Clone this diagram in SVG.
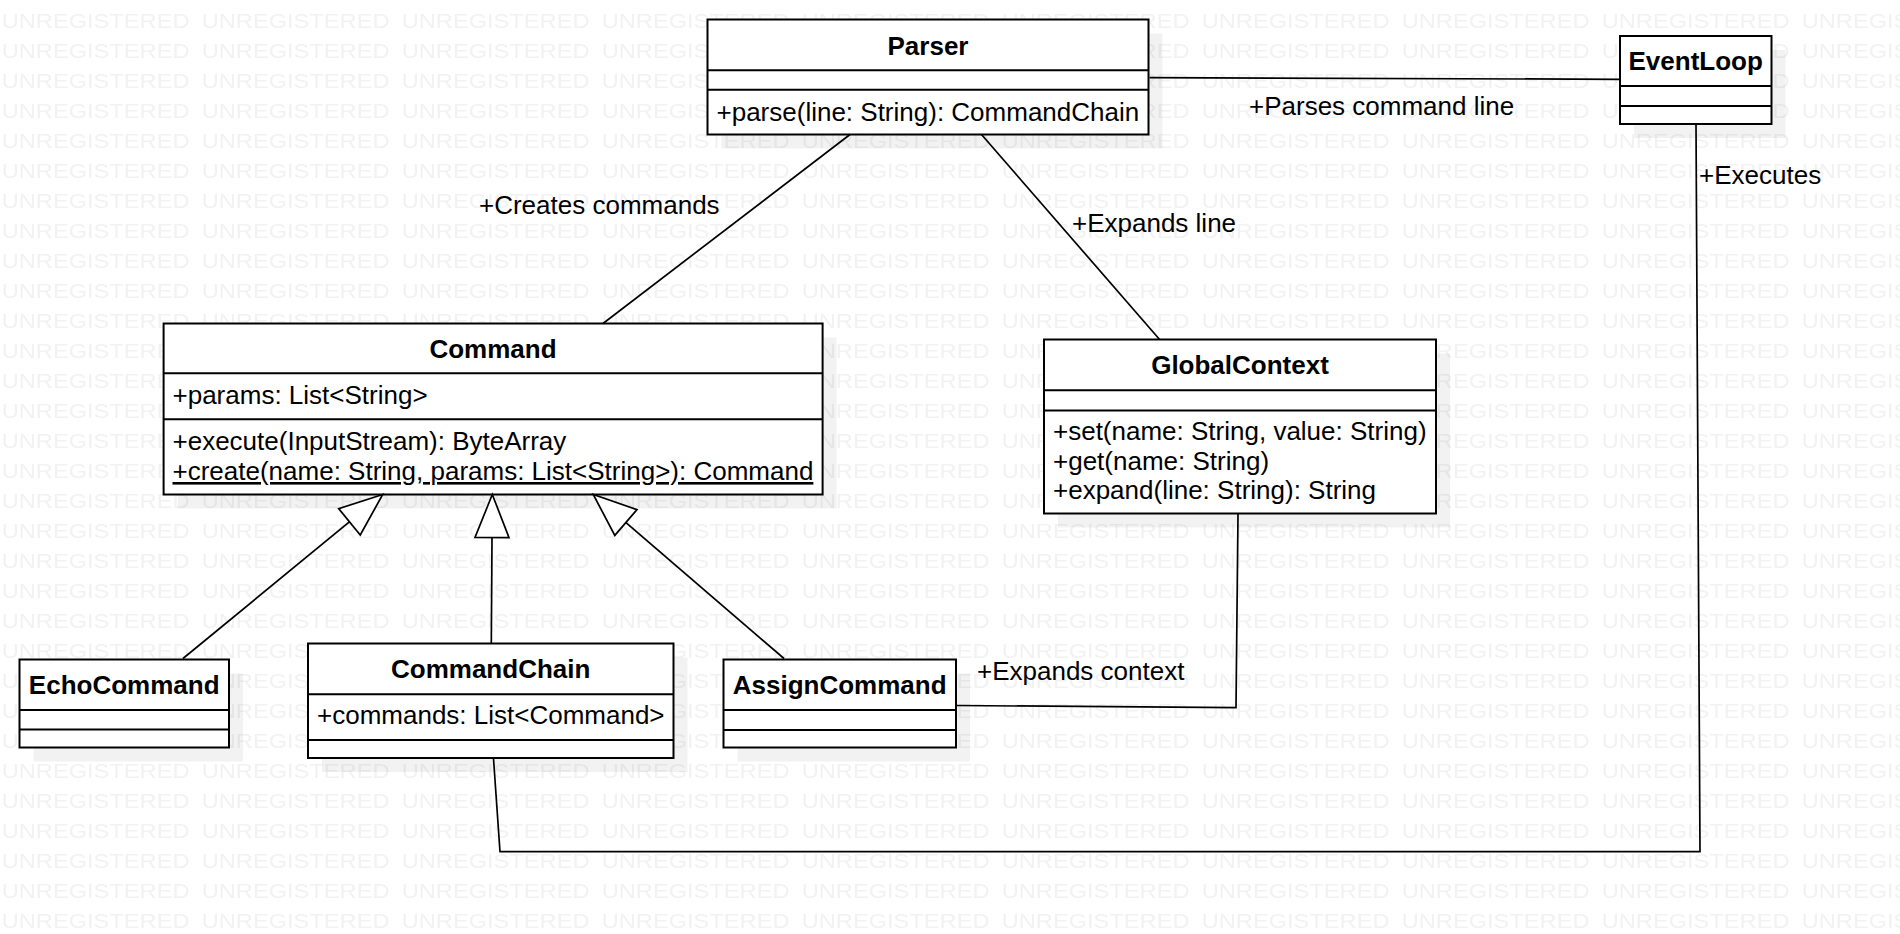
<svg xmlns="http://www.w3.org/2000/svg" width="1900" height="934" viewBox="0 0 1900 934">
<style>
.t{font-family:"Liberation Sans",Arial,sans-serif;font-size:26px;fill:#000}
.b{font-weight:bold;text-anchor:middle}
.box{fill:#fff;stroke:#000;stroke-width:2}
.sh{fill:#000;fill-opacity:0.05}
.dv{stroke:#000;stroke-width:2}
.c{fill:none;stroke:#000;stroke-width:1.7}
.wm{font-family:"Liberation Sans",Arial,sans-serif;font-size:20px;fill:#f2f2f2}
</style>
<defs>
<pattern id="wmp" patternUnits="userSpaceOnUse" x="0" y="0" width="200" height="30">
<text class="wm" x="1.4" y="28.3" transform="scale(1.183,1)">UNREGISTERED</text>
</pattern>
<marker id="gen" markerUnits="userSpaceOnUse" markerWidth="46" markerHeight="38" refX="43" refY="17" orient="auto" overflow="visible">
<path d="M43,17 L0,0 L0,34 Z" fill="#fff" stroke="#000" stroke-width="1.7"/>
</marker>
</defs>
<rect width="1900" height="934" fill="#fff"/>
<rect width="1900" height="934" fill="url(#wmp)"/>

<g id="Parser">
<rect class="sh" x="721.5" y="33.5" width="441" height="115"/>
<rect class="box" x="707.5" y="19.5" width="441" height="115"/>
<line class="dv" x1="707.5" y1="70.3" x2="1148.5" y2="70.3"/>
<line class="dv" x1="707.5" y1="89.7" x2="1148.5" y2="89.7"/>
<text class="t b" x="928" y="54.5">Parser</text>
<text class="t" x="716.5" y="120.5">+parse(line: String): CommandChain</text>
</g>

<g id="EventLoop">
<rect class="sh" x="1634" y="50" width="151.5" height="88"/>
<rect class="box" x="1620" y="36" width="151.5" height="88"/>
<line class="dv" x1="1620" y1="86" x2="1771.5" y2="86"/>
<line class="dv" x1="1620" y1="106" x2="1771.5" y2="106"/>
<text class="t b" x="1695.7" y="70.3">EventLoop</text>
</g>

<g id="Command">
<rect class="sh" x="177.6" y="337.5" width="659" height="171"/>
<rect class="box" x="163.6" y="323.5" width="659" height="171"/>
<line class="dv" x1="163.6" y1="373.2" x2="822.6" y2="373.2"/>
<line class="dv" x1="163.6" y1="419.2" x2="822.6" y2="419.2"/>
<text class="t b" x="493" y="357.8">Command</text>
<text class="t" x="172.5" y="404">+params: List&lt;String&gt;</text>
<text class="t" x="172.5" y="450">+execute(InputStream): ByteArray</text>
<text class="t" x="172.5" y="480" text-decoration="underline">+create(name: String, params: List&lt;String&gt;): Command</text>
</g>

<g id="GlobalContext">
<rect class="sh" x="1058" y="353.5" width="392" height="174"/>
<rect class="box" x="1044" y="339.5" width="392" height="174"/>
<line class="dv" x1="1044" y1="390.2" x2="1436" y2="390.2"/>
<line class="dv" x1="1044" y1="410.5" x2="1436" y2="410.5"/>
<text class="t b" x="1240" y="374">GlobalContext</text>
<text class="t" x="1053" y="440">+set(name: String, value: String)</text>
<text class="t" x="1053" y="469.5">+get(name: String)</text>
<text class="t" x="1053" y="499">+expand(line: String): String</text>
</g>

<g id="EchoCommand">
<rect class="sh" x="33.5" y="673.5" width="209.5" height="88"/>
<rect class="box" x="19.5" y="659.5" width="209.5" height="88"/>
<line class="dv" x1="19.5" y1="710" x2="229" y2="710"/>
<line class="dv" x1="19.5" y1="729.5" x2="229" y2="729.5"/>
<text class="t b" x="124.2" y="694">EchoCommand</text>
</g>

<g id="CommandChain">
<rect class="sh" x="322" y="657.5" width="365.5" height="114.5"/>
<rect class="box" x="308" y="643.5" width="365.5" height="114.5"/>
<line class="dv" x1="308" y1="694.3" x2="673.5" y2="694.3"/>
<line class="dv" x1="308" y1="740" x2="673.5" y2="740"/>
<text class="t b" x="490.7" y="678.3">CommandChain</text>
<text class="t" x="317" y="724">+commands: List&lt;Command&gt;</text>
</g>

<g id="AssignCommand">
<rect class="sh" x="737.5" y="673.5" width="232.5" height="88"/>
<rect class="box" x="723.5" y="659.5" width="232.5" height="88"/>
<line class="dv" x1="723.5" y1="710" x2="956" y2="710"/>
<line class="dv" x1="723.5" y1="730" x2="956" y2="730"/>
<text class="t b" x="839.7" y="694">AssignCommand</text>
</g>

<g id="connectors">
<line class="c" x1="1149.5" y1="77.7" x2="1620" y2="79.3"/>
<text class="t" x="1249" y="115">+Parses command line</text>
<line class="c" x1="850" y1="134.5" x2="603" y2="323.5"/>
<text class="t" x="479" y="214">+Creates commands</text>
<line class="c" x1="981.5" y1="134.5" x2="1159.6" y2="339.5"/>
<text class="t" x="1072" y="232">+Expands line</text>
<polyline class="c" points="1238,514 1236,707.7 956,705.5"/>
<text class="t" x="977" y="680">+Expands context</text>
<polyline class="c" points="1696,124 1700,851.7 500,851.7 493.5,758.5"/>
<text class="t" x="1699" y="184">+Executes</text>
<line class="c" x1="183" y1="658.5" x2="382.7" y2="494.5" marker-end="url(#gen)"/>
<line class="c" x1="491.3" y1="643" x2="492.3" y2="494.5" marker-end="url(#gen)"/>
<line class="c" x1="784" y1="658.5" x2="593.3" y2="494.5" marker-end="url(#gen)"/>
</g>
</svg>
